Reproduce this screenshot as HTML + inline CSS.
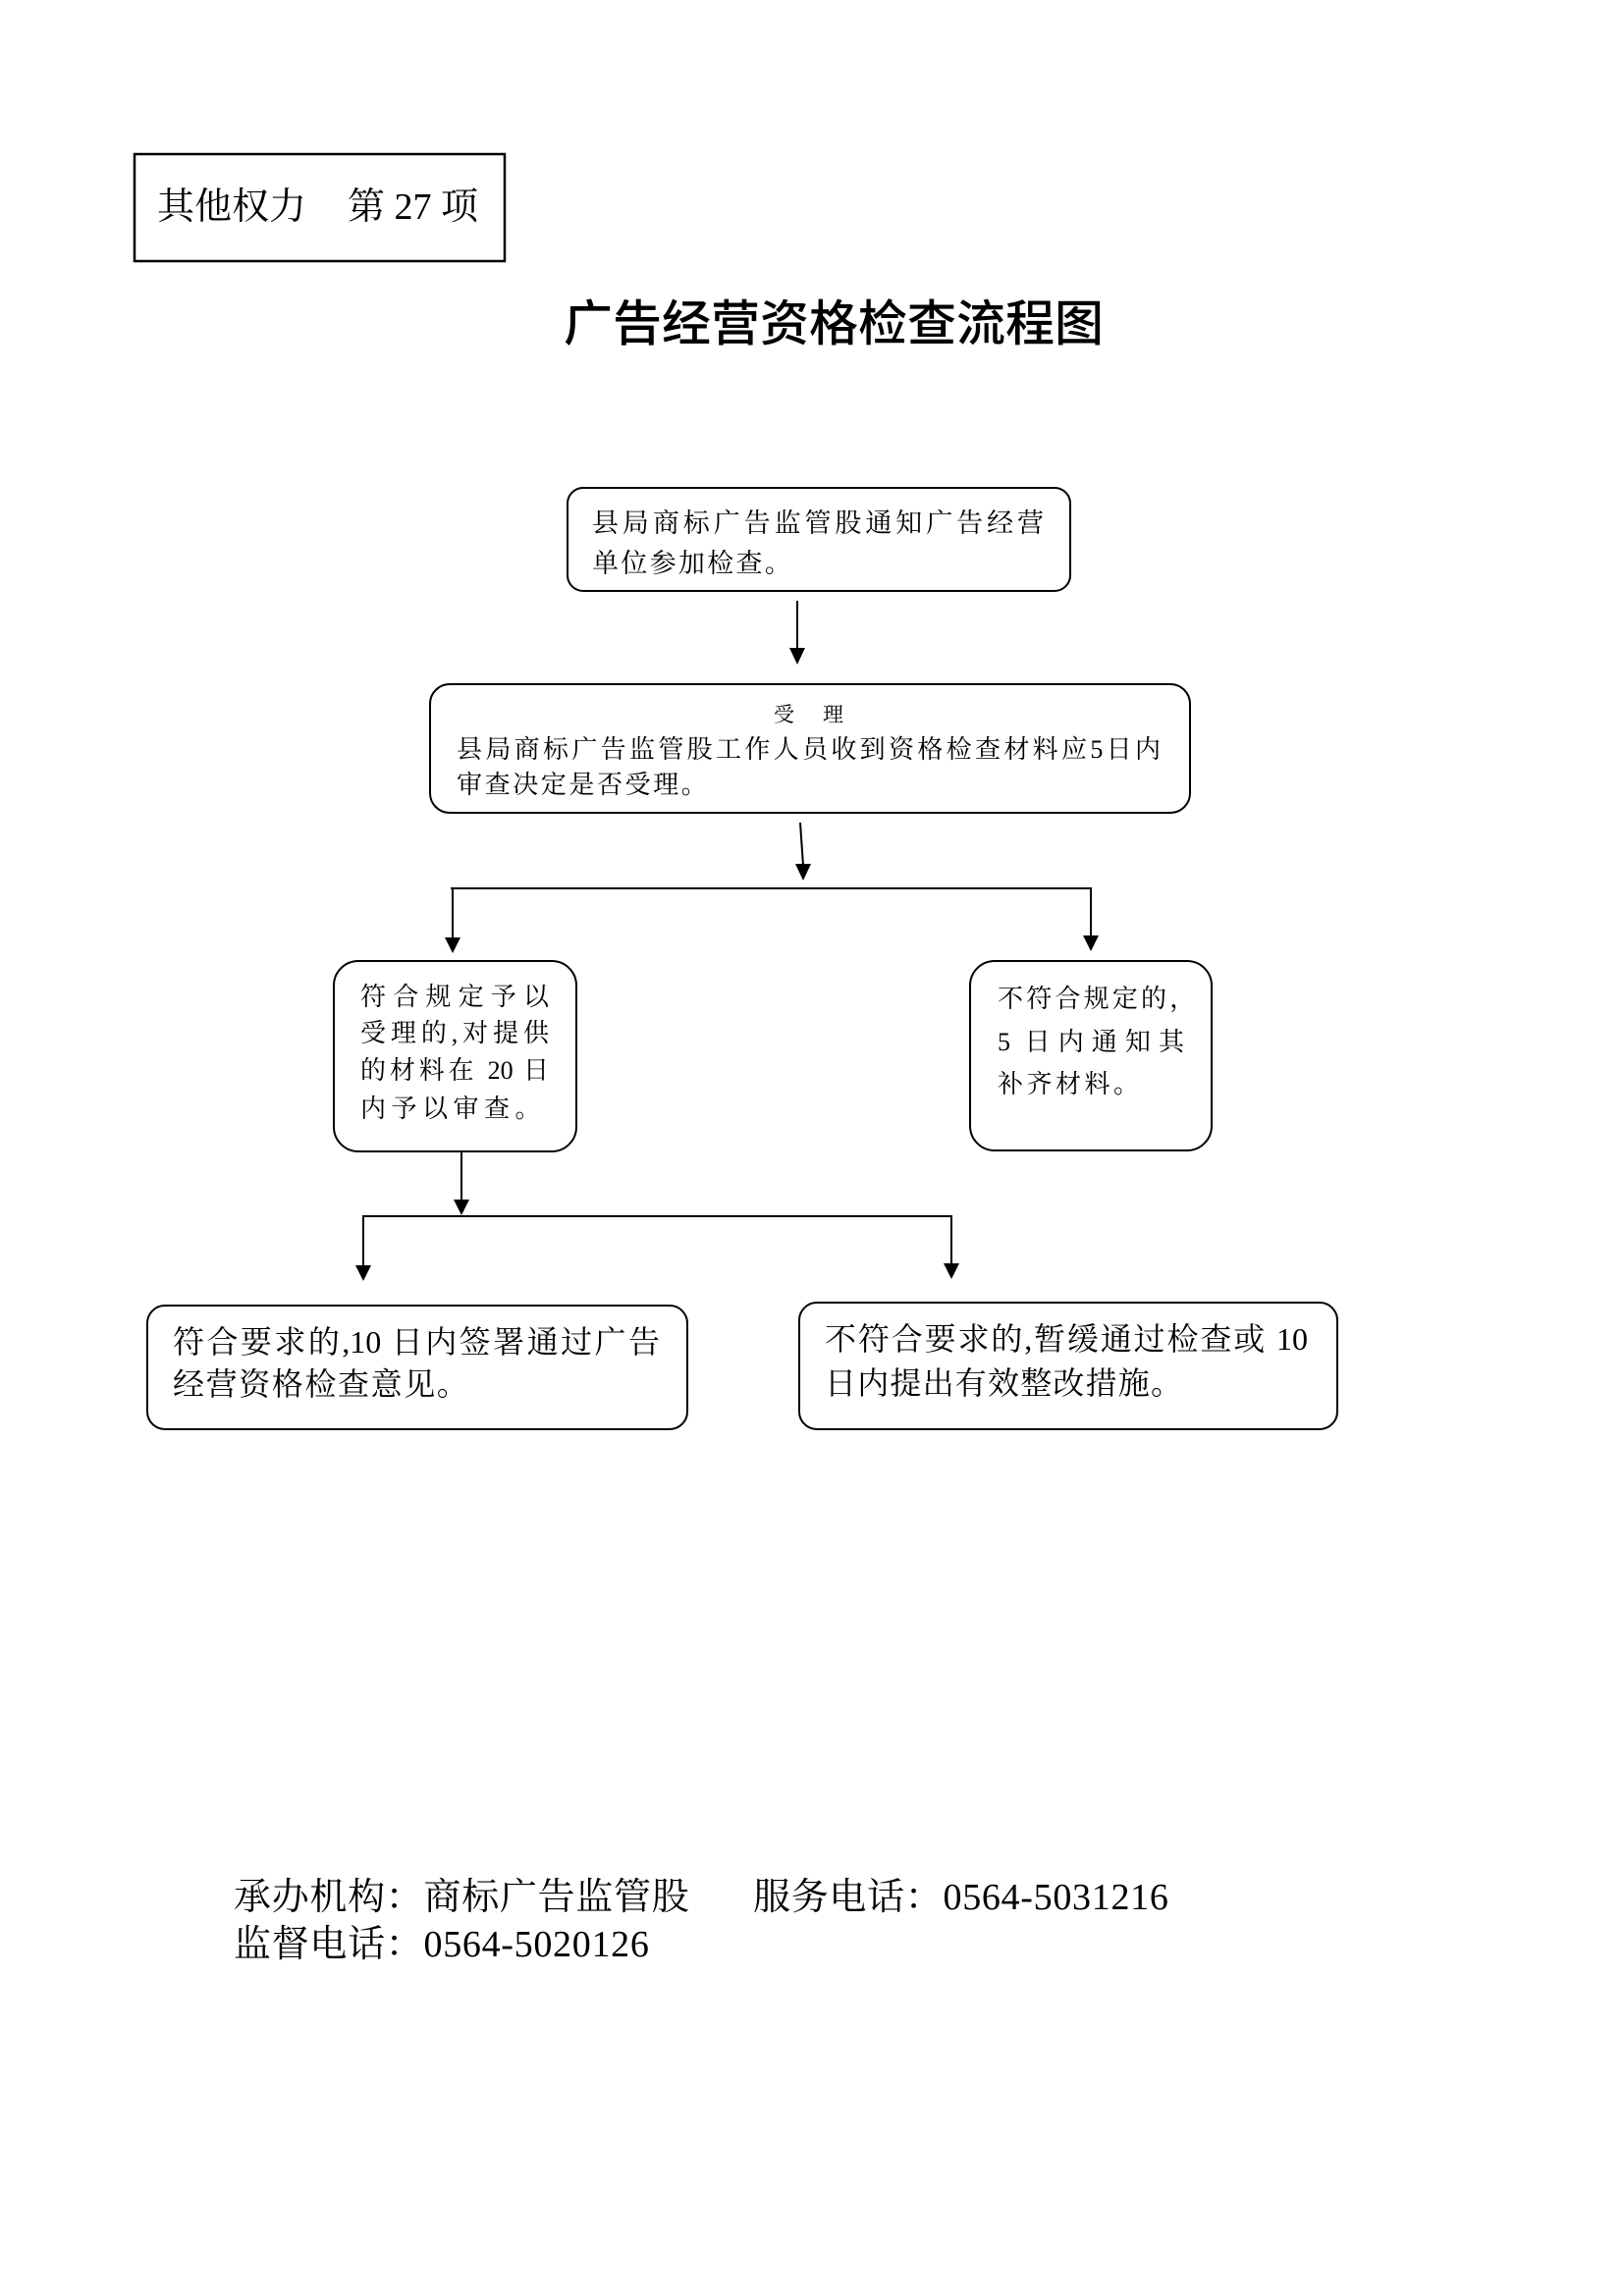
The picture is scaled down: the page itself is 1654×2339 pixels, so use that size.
<!DOCTYPE html>
<html><head><meta charset="utf-8">
<style>
html,body{margin:0;padding:0;background:#fff;}
body{width:1654px;height:2339px;position:relative;overflow:hidden;}
.t{position:absolute;white-space:nowrap;color:#000;font-family:"Liberation Serif","Noto Serif CJK SC",serif;}
.j{text-align:justify;text-align-last:justify;}
svg{position:absolute;left:0;top:0;}
</style></head><body>
<svg width="1654" height="2339" viewBox="0 0 1654 2339">
<g fill="none" stroke="#000" stroke-width="2">
<rect x="137" y="157" width="377" height="109" stroke-width="2.5"/>
<rect x="578" y="497" width="512" height="105" rx="16" ry="16"/>
<rect x="438" y="697" width="774" height="131" rx="20" ry="20"/>
<rect x="340" y="979" width="247" height="194" rx="25" ry="25"/>
<rect x="988" y="979" width="246" height="193" rx="25" ry="25"/>
<rect x="150" y="1330" width="550" height="126" rx="18" ry="18"/>
<rect x="814" y="1327" width="548" height="129" rx="18" ry="18"/>
<line x1="812" y1="612" x2="812" y2="662"/>
<line x1="815" y1="838" x2="818" y2="882"/>
<line x1="459" y1="905" x2="1112" y2="905"/>
<line x1="461" y1="905" x2="461" y2="957"/>
<line x1="1111" y1="905" x2="1111" y2="955"/>
<line x1="470" y1="1173" x2="470" y2="1224"/>
<line x1="369" y1="1239" x2="970" y2="1239"/>
<line x1="370" y1="1239" x2="370" y2="1291"/>
<line x1="969" y1="1239" x2="969" y2="1289"/>
</g>
<g fill="#000">
<polygon points="804,660 820,660 812,677"/>
<polygon points="810,880 826,880 818,897"/>
<polygon points="453,955 469,955 461,971"/>
<polygon points="1103,953 1119,953 1111,969"/>
<polygon points="462,1222 478,1222 470,1238"/>
<polygon points="362,1289 378,1289 370,1305"/>
<polygon points="961,1287 977,1287 969,1303"/>
</g>
</svg>

<!-- header box text -->
<div class="t" style="left:160px;top:188px;font-size:38px;line-height:46px;">其他权力</div>
<div class="t" style="left:354px;top:188px;font-size:38px;line-height:46px;">第 27 项</div>

<!-- title -->
<div class="t" style="left:574px;top:300px;font-size:50px;line-height:60px;font-family:'Liberation Sans','Noto Sans CJK SC',sans-serif;font-weight:500;">广告经营资格检查流程图</div>

<!-- box1 -->
<div class="t j" style="left:603px;top:517px;width:460px;font-size:27px;line-height:33px;">县局商标广告监管股通知广告经营</div>
<div class="t" style="left:603px;top:558px;font-size:27px;line-height:33px;letter-spacing:2.3px;">单位参加检查。</div>

<!-- box2 -->
<div class="t" style="left:788px;top:715px;font-size:21px;line-height:26px;">受</div>
<div class="t" style="left:838px;top:715px;font-size:21px;line-height:26px;">理</div>
<div class="t j" style="left:465px;top:748px;width:717px;font-size:26px;line-height:32px;">县局商标广告监管股工作人员收到资格检查材料应5日内</div>
<div class="t" style="left:465px;top:784px;font-size:26px;line-height:32px;letter-spacing:2.6px;">审查决定是否受理。</div>

<!-- box3 -->
<div class="t j" style="left:367px;top:1000px;width:192px;font-size:26px;line-height:32px;">符合规定予以</div>
<div class="t j" style="left:367px;top:1037px;width:192px;font-size:26px;line-height:32px;">受理的,对提供</div>
<div class="t j" style="left:367px;top:1075px;width:192px;font-size:26px;line-height:32px;">的材料在 20 日</div>
<div class="t" style="left:367px;top:1114px;font-size:26px;line-height:32px;letter-spacing:5.5px;">内予以审查。</div>

<!-- box4 -->
<div class="t" style="left:1016px;top:1002px;font-size:26px;line-height:32px;letter-spacing:3.2px;">不符合规定的，</div>
<div class="t j" style="left:1016px;top:1046px;width:190px;font-size:26px;line-height:32px;">5 日内通知其</div>
<div class="t" style="left:1016px;top:1089px;font-size:26px;line-height:32px;letter-spacing:3.5px;">补齐材料。</div>

<!-- box5 -->
<div class="t j" style="left:176px;top:1348px;width:496px;font-size:32px;line-height:38px;">符合要求的,10 日内签署通过广告</div>
<div class="t" style="left:176px;top:1391px;font-size:32px;line-height:38px;letter-spacing:1.6px;">经营资格检查意见。</div>

<!-- box6 -->
<div class="t j" style="left:840px;top:1345px;width:492px;font-size:32px;line-height:38px;">不符合要求的,暂缓通过检查或 10</div>
<div class="t" style="left:840px;top:1390px;font-size:32px;line-height:38px;letter-spacing:1.2px;">日内提出有效整改措施。</div>

<!-- footer -->
<div class="t" style="left:238px;top:1910px;font-size:38px;line-height:46px;letter-spacing:0.7px;">承办机构：商标广告监管股</div>
<div class="t" style="left:767px;top:1910px;font-size:38px;line-height:46px;letter-spacing:0.7px;">服务电话：0564-5031216</div>
<div class="t" style="left:238px;top:1958px;font-size:38px;line-height:46px;letter-spacing:0.7px;">监督电话：0564-5020126</div>
</body></html>
